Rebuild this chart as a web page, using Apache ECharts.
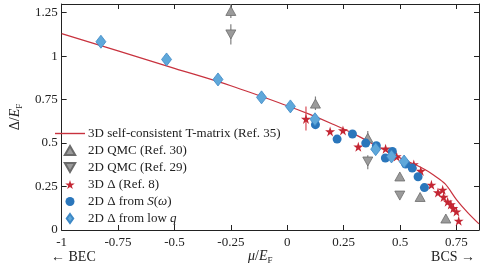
<!DOCTYPE html>
<html><head><meta charset="utf-8">
<script src="https://cdn.jsdelivr.net/npm/echarts@6/dist/echarts.min.js"></script>
<style>html,body{margin:0;padding:0;background:#fff}#c{width:485px;height:272px}</style>
</head><body><div id="c"></div>
<script>
// ---- data ----
const curveX = [-1, -0.75, -0.5, -0.25, 0, 0.1, 0.2, 0.3, 0.4, 0.5, 0.6, 0.65, 0.7, 0.75, 0.8, 0.85];
const curveY = [1.13, 1.03, 0.93, 0.83, 0.715, 0.665, 0.61, 0.55, 0.48, 0.415, 0.355, 0.315, 0.265, 0.175, 0.10, 0.035];

const qmc30X = [-0.25, 0.125, 0.357, 0.499, 0.589, 0.703];
const qmc30Y = [1.26, 0.727, 0.53, 0.308, 0.19, 0.066];
const qmc29X = [-0.25, 0.357, 0.499];
const qmc29Y = [1.125, 0.394, 0.198];

const star3dX = [0.083, 0.19, 0.247, 0.315, 0.436, 0.485, 0.561, 0.592, 0.639, 0.668, 0.689, 0.693, 0.711, 0.725, 0.736, 0.75, 0.76];
const star3dY = [0.639, 0.567, 0.573, 0.479, 0.468, 0.423, 0.377, 0.34, 0.26, 0.216, 0.231, 0.19, 0.163, 0.147, 0.125, 0.106, 0.053];

const swX = [0.125, 0.221, 0.289, 0.348, 0.395, 0.435, 0.466, 0.525, 0.554, 0.58, 0.608];
const swY = [0.606, 0.523, 0.552, 0.50, 0.485, 0.414, 0.452, 0.379, 0.356, 0.306, 0.244];

const lowqX = [-0.826, -0.535, -0.307, -0.114, 0.014, 0.123, 0.392, 0.462, 0.518];
const lowqY = [1.083, 0.981, 0.866, 0.763, 0.711, 0.637, 0.465, 0.423, 0.394];

// error bars: x, low, high
const errGrayX = [-0.25, -0.25, 0.125, 0.357, 0.357];
const errGrayLo = [1.22, 1.067, 0.69, 0.49, 0.35];
const errGrayHi = [1.30, 1.183, 0.768, 0.57, 0.43];
const errRedX = [0.083];
const errRedLo = [0.573];
const errRedHi = [0.711];

const xTicks = {min: -1, max: 0.85, interval: 0.25};
const yTicks = {min: 0, max: 1.3, interval: 0.25};

const names = [
  '3D self-consistent T-matrix (Ref. 35)',
  '2D QMC (Ref. 30)',
  '2D QMC (Ref. 29)',
  '3D \u0394 (Ref. 8)',
  '2D \u0394 from S(\u03c9)',
  '2D \u0394 from low q'
];

// ---- build ----
const zip = (a, b) => a.map((v, i) => [v, b[i]]);
const zip3 = (a, b, c) => a.map((v, i) => [v, b[i], c[i]]);
const FONT = 'Liberation Serif';
const RED = '#c42633';
const STAR = 'path://M50,0 L61,35 L98,35 L68,57 L79,91 L50,70 L21,91 L32,57 L2,35 L39,35 Z';
const TUP = 'path://M5,0 L10,8.66 L0,8.66 Z';
const TDN = 'path://M0,0 L10,0 L5,8.66 Z';
const DIA = 'path://M5,0 L10,7 L5,14 L0,7 Z';
const LINEICON = 'path://M0,0 L30,0 L30,1.4 L0,1.4 Z';

function errRender(color) {
  return function (params, api) {
    const p1 = api.coord([api.value(0), api.value(1)]);
    const p2 = api.coord([api.value(0), api.value(2)]);
    return {type: 'line', shape: {x1: p1[0], y1: p1[1], x2: p2[0], y2: p2[1]},
      style: {stroke: color, lineWidth: 1.2}};
  };
}

const tickFmt = (iv) => (v) => {
  const r = Math.round(v / iv);
  if (Math.abs(v - r * iv) > 1e-6) return '';
  return String(Math.round(v * 100) / 100);
};

const axisCommon = () => ({
  axisLine: {show: true, onZero: false, lineStyle: {color: '#222', width: 1}},
  axisTick: {show: true, inside: true, length: 5, lineStyle: {color: '#222'}},
  splitLine: {show: false}
});

const chart = echarts.init(document.getElementById('c'), null, {renderer: 'canvas'});
chart.setOption({
  animation: false,
  backgroundColor: '#fff',
  textStyle: {fontFamily: FONT},
  grid: {left: 47, right: 6, top: 4, bottom: 42},
  xAxis: [
    Object.assign({type: 'value', position: 'bottom', min: xTicks.min, max: xTicks.max, interval: xTicks.interval,
      axisLabel: {fontFamily: FONT, fontSize: 13, color: '#222', margin: 6, showMaxLabel: false, formatter: tickFmt(0.25)}}, axisCommon()),
    Object.assign({type: 'value', position: 'top', min: xTicks.min, max: xTicks.max, interval: xTicks.interval,
      axisLabel: {show: false}}, axisCommon())
  ],
  yAxis: [
    Object.assign({type: 'value', position: 'left', min: yTicks.min, max: yTicks.max, interval: yTicks.interval,
      axisLabel: {fontFamily: FONT, fontSize: 13, color: '#222', margin: 4, showMaxLabel: false, formatter: tickFmt(0.25)},
      name: '{n|\u0394/}{i|E}{s|F}', nameLocation: 'middle', nameRotate: 90, nameGap: 33,
      nameTextStyle: {rich: {
        n: {fontFamily: FONT, fontSize: 14, color: '#222', lineHeight: 18},
        i: {fontFamily: FONT, fontSize: 14, fontStyle: 'italic', color: '#222', lineHeight: 18},
        s: {fontFamily: FONT, fontSize: 9, color: '#222', lineHeight: 12, verticalAlign: 'bottom'}
      }}}, axisCommon()),
    Object.assign({type: 'value', position: 'right', min: yTicks.min, max: yTicks.max, interval: yTicks.interval,
      axisLabel: {show: false}}, axisCommon())
  ],
  legend: {
    orient: 'vertical', left: 50, top: 121, itemWidth: 30, itemHeight: 9, itemGap: 2,
    data: [{name: names[0], icon: LINEICON}, names[1], names[2], names[3], names[4], names[5]],
    textStyle: {fontFamily: FONT, fontSize: 13, color: '#222', lineHeight: 15, padding: [0, 0, 0, -2],
      rich: {i: {fontFamily: FONT, fontSize: 13, fontStyle: 'italic', color: '#222'}}},
    formatter: function (n) {
      if (n === names[4]) return '2D \u0394 from {i|S}({i|\u03c9})';
      if (n === names[5]) return '2D \u0394 from low {i|q}';
      return n;
    }
  },
  graphic: [
    {type: 'text', left: 51, top: 250, style: {text: '\u2190 BEC', font: '14px "Liberation Serif"', fill: '#222'}},
    {type: 'text', right: 10, top: 250, style: {text: 'BCS \u2192', font: '14px "Liberation Serif"', fill: '#222'}},
    {type: 'text', left: 248, top: 249, style: {
      text: '{i|\u03bc}{n|/}{i|E}{s|F}',
      rich: {
        n: {font: '14px "Liberation Serif"', fill: '#222', lineHeight: 18},
        i: {font: 'italic 14px "Liberation Serif"', fill: '#222', lineHeight: 18},
        s: {font: '9px "Liberation Serif"', fill: '#222', lineHeight: 12, verticalAlign: 'bottom'}
      }}}
  ],
  series: [
    {name: names[0], type: 'line', data: zip(curveX, curveY), smooth: 0.35, showSymbol: false, symbol: 'none',
      lineStyle: {color: '#c8323e', width: 1.2}, itemStyle: {color: '#c8323e'}, clip: true, z: 2},
    {type: 'custom', renderItem: errRender('#808080'), data: zip3(errGrayX, errGrayLo, errGrayHi), clip: true, z: 3},
    {type: 'custom', renderItem: errRender('#d84b55'), data: zip3(errRedX, errRedLo, errRedHi), clip: true, z: 3},
    {name: names[1], type: 'scatter', data: zip(qmc30X, qmc30Y), symbol: TUP, symbolSize: [10, 9],
      itemStyle: {color: '#9b9b9b', borderColor: '#6b6b6b', borderWidth: 0.8, opacity: 1}, z: 4},
    {name: names[2], type: 'scatter', data: zip(qmc29X, qmc29Y), symbol: TDN, symbolSize: [10, 9],
      itemStyle: {color: '#9b9b9b', borderColor: '#6b6b6b', borderWidth: 0.8, opacity: 1}, z: 4},
    {name: names[3], type: 'scatter', data: zip(star3dX, star3dY), symbol: STAR, symbolSize: 10,
      itemStyle: {color: RED, opacity: 1}, z: 5},
    {name: names[4], type: 'scatter', data: zip(swX, swY), symbol: 'circle', symbolSize: 9,
      itemStyle: {color: '#2a76bb', opacity: 1}, z: 6},
    {name: names[5], type: 'scatter', data: zip(lowqX, lowqY), symbol: DIA, symbolSize: [10, 13],
      itemStyle: {color: '#5fa8da', borderColor: '#3d88c6', borderWidth: 0.8, opacity: 1}, z: 7}
  ]
});
</script>
</body></html>
